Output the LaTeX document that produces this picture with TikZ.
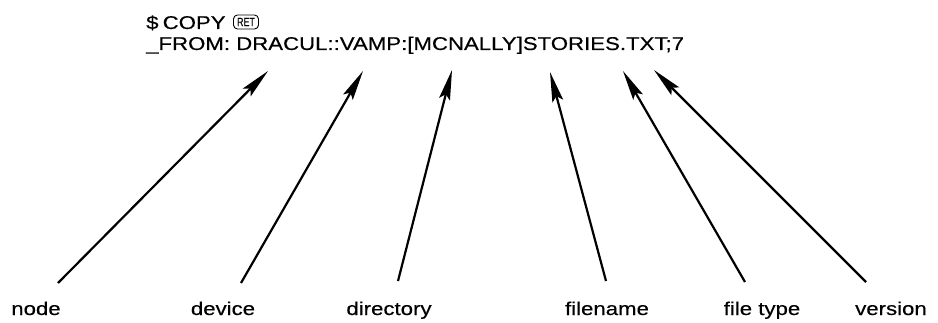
\documentclass[tikz,border=0pt]{standalone}
\usepackage{fontspec}
\setmainfont{Liberation Sans}[FakeStretch=1.2,FakeBold=0.4]
\usetikzlibrary{arrows.meta}

\begin{document}
\begin{tikzpicture}[x=1pt,y=1pt,
  txt/.style={inner sep=0pt,font=\fontsize{18.5}{18.5}\selectfont},
  key/.style={draw,line width=0.9pt,rounded corners=4pt,minimum width=25pt,minimum height=14pt,inner sep=0pt,font=\fontsize{12}{12}\selectfont},
  arr/.style={-{Stealth[length=30pt,width=11pt,inset=5pt]},line width=2.2pt}]
\useasboundingbox (0,0) rectangle (938,322);
\node[txt,anchor=base west] (copy) at (146,293) {\$ \kern-2pt COPY};
\node[key] (ret) at (246,300) {\scalebox{0.62}[1]{RET}};
\node[txt,anchor=base west] (from) at (146,272) {\_FROM: DRACUL::VAMP:[MCNALLY]STORIES.TXT;7};
\node[txt,anchor=base] (node) at (36,7) {node};
\node[txt,anchor=base] (device) at (223,7) {device};
\node[txt,anchor=base] (dir) at (389,7) {directory};
\node[txt,anchor=base] (fname) at (607,7) {filename};
\node[txt,anchor=base] (ftype) at (762,7) {file type};
\node[txt,anchor=base] (vers) at (891,7) {version};
% tails above the labels
\coordinate (node-a) at (58,39);
\coordinate (device-a) at (241,39);
\coordinate (dir-a) at (398,41);
\coordinate (fname-a) at (606,41);
\coordinate (ftype-a) at (745,40);
\coordinate (vers-a) at (866,40);
% tips below the path
\coordinate (node-b) at (268,251);
\coordinate (device-b) at (363,251);
\coordinate (dir-b) at (452,252);
\coordinate (fname-b) at (550,250);
\coordinate (ftype-b) at (623,251);
\coordinate (vers-b) at (654,252);
\draw[arr] (node-a) -- (node-b);
\draw[arr] (device-a) -- (device-b);
\draw[arr] (dir-a) -- (dir-b);
\draw[arr] (fname-a) -- (fname-b);
\draw[arr] (ftype-a) -- (ftype-b);
\draw[arr] (vers-a) -- (vers-b);
\end{tikzpicture}
\end{document}
